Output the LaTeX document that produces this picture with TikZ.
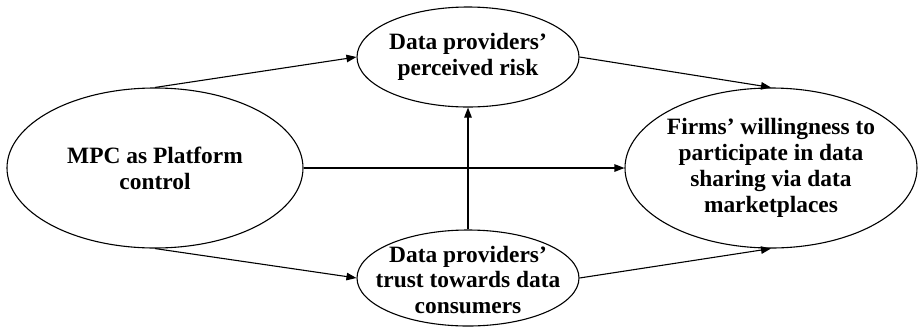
\documentclass[tikz,border=0pt]{standalone}
\usepackage{fontspec}
\setmainfont{Liberation Serif}
\usetikzlibrary{shapes.geometric,arrows.meta}
\begin{document}
\begin{tikzpicture}[x=1bp,y=-1bp,
  construct/.style={draw,ellipse,line width=1.1bp,inner sep=0pt},
  ctext/.style={align=center,inner sep=0pt,font=\bfseries\fontsize{23.5}{26}\selectfont},
  link/.style={line width=1.1bp,-{Triangle[length=10bp,width=7.5bp]}}]
\useasboundingbox (0,0) rectangle (918,327);
\node[construct,minimum width=296bp,minimum height=160bp] (mpc) at (155,168) {};
\node[construct,minimum width=222bp,minimum height=100bp] (risk) at (468,57) {};
\node[construct,minimum width=222bp,minimum height=96bp] (trust) at (468,278) {};
\node[construct,minimum width=292bp,minimum height=160bp] (will) at (771,168) {};
\node[ctext] (mpc-t) at (mpc.center) {MPC as Platform\\control};
\node[ctext] (risk-t) at (risk.center) {Data providers’\\perceived risk};
\node[ctext,yshift=-2bp] (trust-t) at (trust.center) {Data providers’\\trust towards data\\consumers};
\node[ctext] (will-t) at (will.center) {Firms’ willingness to\\participate in data\\sharing via data\\marketplaces};
\draw[link] (mpc.north) -- (risk.west);
\draw[link] (mpc.south) -- (trust.west);
\draw[link] (mpc.east) -- (will.west);
\draw[link] (risk.east) -- (will.north);
\draw[link] (trust.east) -- (will.south);
\draw[link] (trust.north) -- (risk.south);
\end{tikzpicture}
\end{document}
